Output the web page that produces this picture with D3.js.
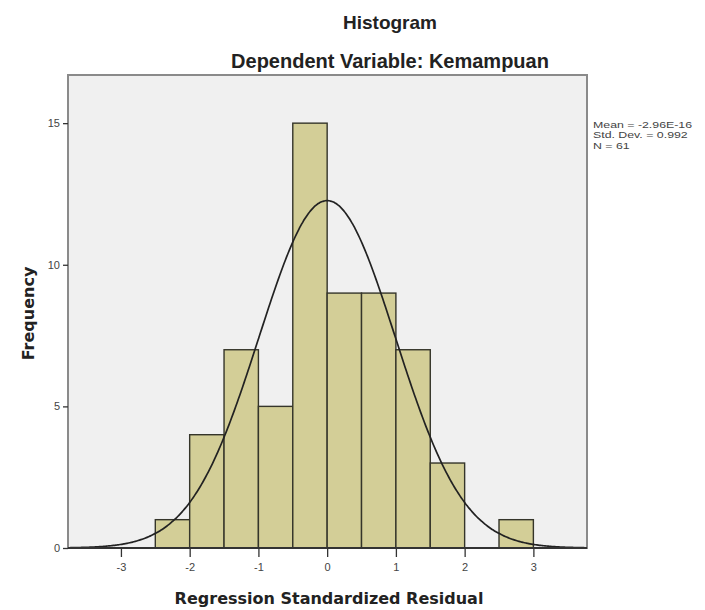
<!DOCTYPE html>
<html>
<head>
<meta charset="utf-8">
<script src="https://cdn.jsdelivr.net/npm/d3@7/dist/d3.min.js"></script>
<style>
  html, body { margin: 0; padding: 0; background: #ffffff; }
  svg { display: block; }
</style>
</head>
<body>
<script>
// ---- data ----
const binStarts = [-2.5, -2.0, -1.5, -1.0, -0.5, 0.0, 0.5, 1.0, 1.5, 2.0, 2.5];
const binCounts = [1, 4, 7, 5, 15, 9, 9, 7, 3, 0, 1];
const binWidth = 0.5;
const xTicks = [-3, -2, -1, 0, 1, 2, 3];
const yTicks = [0, 5, 10, 15];
const statMean = -2.96e-16;
const statSd = 0.992;
const statN = 61;
const statLines = ["Mean = -2.96E-16", "Std. Dev. = 0.992", "N = 61"];
const titleText = "Histogram";
const subtitleText = "Dependent Variable: Kemampuan";
const xLabel = "Regression Standardized Residual";
const yLabel = "Frequency";

const W = 705, H = 610;
const pL = 68, pR = 587, pT = 75, pB = 548;
const sans = "Arial, 'Liberation Sans', sans-serif";
const wide = "Verdana, 'DejaVu Sans', sans-serif";

const svg = d3.select("body").append("svg").attr("width", W).attr("height", H);

const x = d3.scaleLinear().domain([-3.77, 3.78]).range([pL, pR]);
const y = d3.scaleLinear().domain([0, 16.7]).range([pB, pT]);

// plot background
svg.append("rect").attr("x", pL).attr("y", pT)
  .attr("width", pR - pL).attr("height", pB - pT)
  .attr("fill", "#f0f0f0");

// bars
svg.append("g").selectAll("rect")
  .data(binStarts.map((s, i) => ({s, c: binCounts[i]})).filter(d => d.c > 0))
  .join("rect")
  .attr("x", d => x(d.s))
  .attr("y", d => y(d.c))
  .attr("width", d => x(d.s + binWidth) - x(d.s))
  .attr("height", d => y(0) - y(d.c))
  .attr("fill", "#d3ce97")
  .attr("stroke", "#35352a")
  .attr("stroke-width", 1.4);

// normal curve from the reported statistics
const curvePts = d3.range(-3.77, 3.78, 0.02).map(v => [v,
  statN * binWidth * Math.exp(-0.5 * Math.pow((v - statMean) / statSd, 2)) / (statSd * Math.sqrt(2 * Math.PI))]);
svg.append("path")
  .datum(curvePts)
  .attr("fill", "none")
  .attr("stroke", "#222")
  .attr("stroke-width", 1.7)
  .attr("d", d3.line().x(d => x(d[0])).y(d => y(d[1])).curve(d3.curveBasis));

// frame
svg.append("rect").attr("x", pL).attr("y", pT)
  .attr("width", pR - pL).attr("height", pB - pT)
  .attr("fill", "none").attr("stroke", "#8a8a8a").attr("stroke-width", 2);
svg.append("line").attr("x1", pL).attr("x2", pR).attr("y1", pB).attr("y2", pB)
  .attr("stroke", "#333").attr("stroke-width", 2);

// axes
const xAxis = d3.axisBottom(x).tickValues(xTicks).tickSize(9).tickPadding(6)
  .tickFormat(d => String(d));
const gx = svg.append("g").attr("transform", `translate(0,${pB})`).call(xAxis);
gx.select(".domain").remove();
gx.selectAll(".tick line").attr("stroke", "#333").attr("stroke-width", 1.3);
gx.selectAll(".tick text").attr("fill", "#444").style("font-family", sans).style("font-size", "11px");

const yAxis = d3.axisLeft(y).tickValues(yTicks).tickSize(5).tickPadding(3);
const gy = svg.append("g").attr("transform", `translate(${pL},0)`).call(yAxis);
gy.select(".domain").remove();
gy.selectAll(".tick line").attr("stroke", "#333").attr("stroke-width", 1.3);
gy.selectAll(".tick text").attr("fill", "#444").style("font-family", sans).style("font-size", "11px");

// titles
svg.append("text").attr("x", 390).attr("y", 29).attr("text-anchor", "middle")
  .style("font-family", sans).style("font-size", "19px")
  .style("font-weight", "bold").attr("fill", "#222").text(titleText);
svg.append("text").attr("x", 390).attr("y", 68).attr("text-anchor", "middle")
  .style("font-family", sans).style("font-size", "20px")
  .style("font-weight", "bold").attr("fill", "#222").text(subtitleText);

// axis labels
svg.append("text").attr("x", 329).attr("y", 604).attr("text-anchor", "middle")
  .style("font-family", wide).style("font-size", "16px")
  .style("font-weight", "bold").attr("fill", "#222").text(xLabel);
svg.append("text").attr("transform", `translate(34,${(pT + pB) / 2 + 2}) rotate(-90)`)
  .attr("text-anchor", "middle")
  .style("font-family", wide).style("font-size", "16px")
  .style("font-weight", "bold").attr("fill", "#222").text(yLabel);

// stats legend
svg.append("g").attr("transform", "translate(593,0) scale(1.3,1)")
  .selectAll("text").data(statLines).join("text")
  .attr("x", 0).attr("y", (d, i) => 128 + i * 10.5)
  .style("font-family", sans).style("font-size", "9.5px")
  .attr("fill", "#444").text(d => d);
</script>
</body>
</html>
